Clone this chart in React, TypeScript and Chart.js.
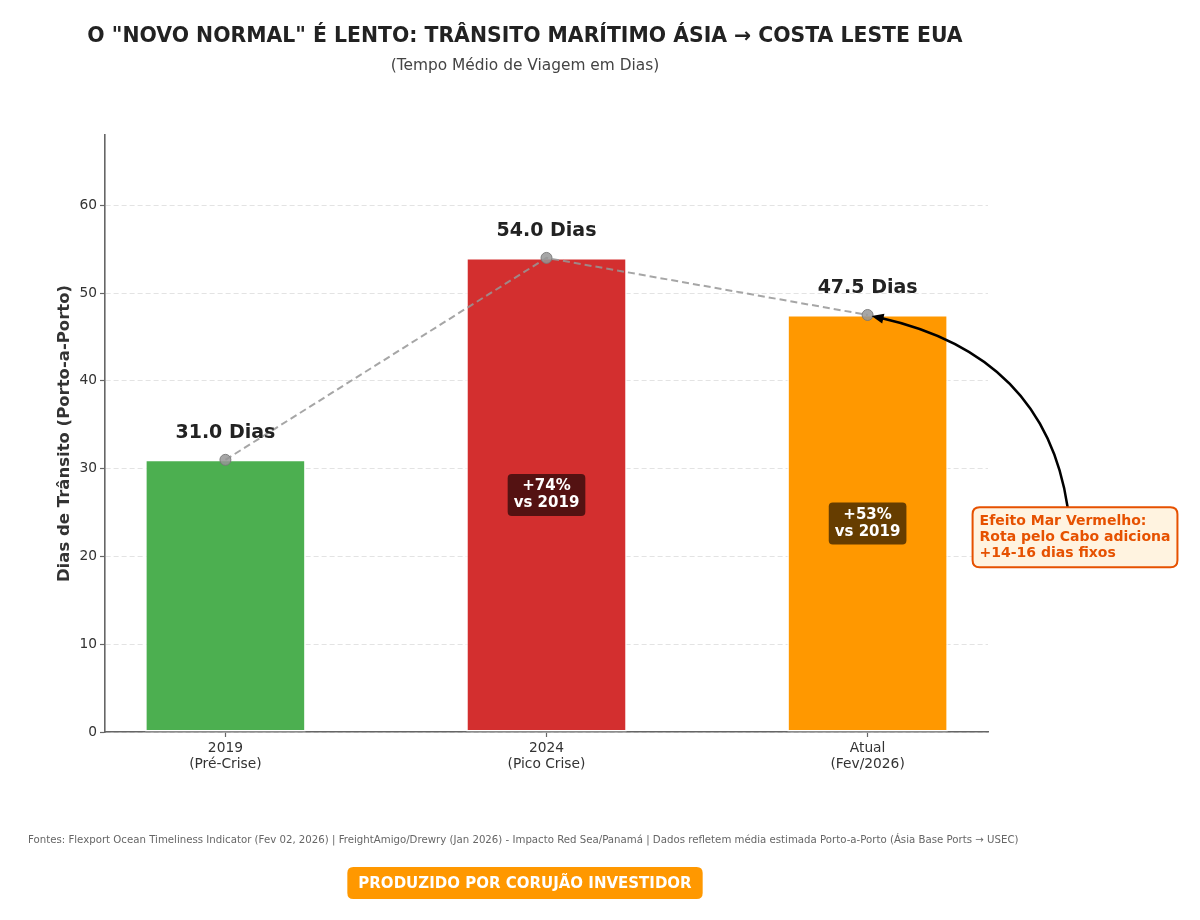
import React, { useEffect, useRef } from "react";
import { Chart, registerables } from "chart.js";

Chart.register(...registerables);

const categories: string[][] = [
  ["2019", "(Pré-Crise)"],
  ["2024", "(Pico Crise)"],
  ["Atual", "(Fev/2026)"],
];
const transitDays = [31.0, 54.0, 47.5];
const barColors = ["#4CAF50", "#D32F2F", "#FF9800"];
const valueLabels = ["31.0 Dias", "54.0 Dias", "47.5 Dias"];
const changeLabels: (string[] | null)[] = [null, ["+74%", "vs 2019"], ["+53%", "vs 2019"]];
const yTicks = [0, 10, 20, 30, 40, 50, 60];
const yMax = 68;

const titleText = 'O "NOVO NORMAL" É LENTO: TRÂNSITO MARÍTIMO ÁSIA → COSTA LESTE EUA';
const subtitleText = "(Tempo Médio de Viagem em Dias)";
const yAxisTitle = "Dias de Trânsito (Porto-a-Porto)";
const annotationLines = ["Efeito Mar Vermelho:", "Rota pelo Cabo adiciona", "+14-16 dias fixos"];
const footerText =
  "Fontes: Flexport Ocean Timeliness Indicator (Fev 02, 2026) | FreightAmigo/Drewry (Jan 2026) - Impacto Red Sea/Panamá | Dados refletem média estimada Porto-a-Porto (Ásia Base Ports → USEC)";
const badgeText = "PRODUZIDO POR CORUJÃO INVESTIDOR";

const FONT = "'DejaVu Sans', sans-serif";

function roundRect(ctx: CanvasRenderingContext2D, x: number, y: number, w: number, h: number, r: number) {
  ctx.beginPath();
  ctx.moveTo(x + r, y);
  ctx.lineTo(x + w - r, y);
  ctx.quadraticCurveTo(x + w, y, x + w, y + r);
  ctx.lineTo(x + w, y + h - r);
  ctx.quadraticCurveTo(x + w, y + h, x + w - r, y + h);
  ctx.lineTo(x + r, y + h);
  ctx.quadraticCurveTo(x, y + h, x, y + h - r);
  ctx.lineTo(x, y + r);
  ctx.quadraticCurveTo(x, y, x + r, y);
  ctx.closePath();
}

const decorPlugin = {
  id: "decor",
  afterDraw(chart: any) {
    const ctx: CanvasRenderingContext2D = chart.ctx;
    const xs = chart.scales.x;
    const ys = chart.scales.y;
    const area = chart.chartArea;
    ctx.save();

    // Title & subtitle
    ctx.textAlign = "center";
    ctx.textBaseline = "middle";
    ctx.fillStyle = "#222";
    ctx.font = `bold 20.4px ${FONT}`;
    ctx.fillText(titleText, 525, 37);
    ctx.fillStyle = "#444";
    ctx.font = `15.4px ${FONT}`;
    ctx.fillText(subtitleText, 525, 66);

    // Y axis title
    ctx.save();
    ctx.translate(65, (area.top + area.bottom) / 2);
    ctx.rotate(-Math.PI / 2);
    ctx.fillStyle = "#333";
    ctx.font = `bold 16.5px ${FONT}`;
    ctx.fillText(yAxisTitle, 0, 0);
    ctx.restore();

    // Value labels
    ctx.fillStyle = "#222";
    ctx.font = `bold 19px ${FONT}`;
    transitDays.forEach((v, i) => {
      const px = xs.getPixelForValue(i);
      const py = ys.getPixelForValue(v);
      ctx.fillText(valueLabels[i], px, py - 27);
    });

    // Change labels inside bars
    ctx.font = `bold 15px ${FONT}`;
    changeLabels.forEach((lines, i) => {
      if (!lines) return;
      const px = xs.getPixelForValue(i);
      const py = ys.getPixelForValue(transitDays[i] / 2);
      const w = Math.max(...lines.map((l) => ctx.measureText(l).width)) + 12;
      const lh = 17;
      const h = lh * lines.length + 8;
      ctx.fillStyle = "rgba(0,0,0,0.6)";
      roundRect(ctx, px - w / 2, py - h / 2, w, h, 4);
      ctx.fill();
      ctx.fillStyle = "#ffffff";
      lines.forEach((l, k) => {
        ctx.fillText(l, px, py - ((lines.length - 1) * lh) / 2 + k * lh);
      });
    });

    // Annotation arrow
    const tx = xs.getPixelForValue(2);
    const ty = ys.getPixelForValue(transitDays[2]);
    const sx = xs.getPixelForValue(2.623);
    const sy = ys.getPixelForValue(25.6);
    const cx = 1045;
    const cy = 355;
    const ex = tx + 4;
    const ey = ty + 1;
    ctx.strokeStyle = "#000";
    ctx.lineWidth = 2.5;
    const ang = Math.atan2(ey - cy, ex - cx);
    const headLen = 12;
    const bx = ex - headLen * Math.cos(ang) * 0.8;
    const by = ey - headLen * Math.sin(ang) * 0.8;
    ctx.beginPath();
    ctx.moveTo(sx, sy);
    ctx.quadraticCurveTo(cx, cy, bx, by);
    ctx.stroke();
    ctx.fillStyle = "#000";
    ctx.beginPath();
    ctx.moveTo(ex, ey);
    ctx.lineTo(ex - headLen * Math.cos(ang) + 5 * Math.sin(ang), ey - headLen * Math.sin(ang) - 5 * Math.cos(ang));
    ctx.lineTo(ex - headLen * Math.cos(ang) - 5 * Math.sin(ang), ey - headLen * Math.sin(ang) + 5 * Math.cos(ang));
    ctx.closePath();
    ctx.fill();

    // Annotation box
    const bxl = xs.getPixelForValue(2.327);
    const byt = ys.getPixelForValue(25.6);
    ctx.font = `bold 14px ${FONT}`;
    const bw = Math.max(...annotationLines.map((l) => ctx.measureText(l).width)) + 14;
    const bh = 60;
    ctx.fillStyle = "#FFF3E0";
    ctx.strokeStyle = "#E65100";
    ctx.lineWidth = 2;
    roundRect(ctx, bxl, byt, bw, bh, 7);
    ctx.fill();
    ctx.stroke();
    ctx.fillStyle = "#E65100";
    ctx.textAlign = "left";
    annotationLines.forEach((l, k) => {
      ctx.fillText(l, bxl + 7, byt + 14 + k * 16);
    });

    // Footer
    ctx.fillStyle = "#666";
    ctx.font = `10.2px ${FONT}`;
    ctx.textAlign = "left";
    ctx.fillText(footerText, 28, 840);

    // Badge
    ctx.font = `bold 15px ${FONT}`;
    ctx.textAlign = "center";
    const tw = ctx.measureText(badgeText).width + 22;
    ctx.fillStyle = "#FF9800";
    roundRect(ctx, 525 - tw / 2, 867, tw, 32, 6);
    ctx.fill();
    ctx.fillStyle = "#ffffff";
    ctx.fillText(badgeText, 525, 884);

    ctx.restore();
  },
};

export default function App() {
  const ref = useRef<HTMLCanvasElement | null>(null);
  useEffect(() => {
    if (!ref.current) return;
    const points = transitDays.map((v, i) => ({ x: i, y: v }));
    const chart = new Chart(ref.current, {
      type: "bar",
      data: {
        datasets: [
          {
            type: "line",
            data: points,
            borderColor: "rgba(150,150,150,0.85)",
            borderDash: [7, 4],
            borderWidth: 2,
            pointRadius: 5.5,
            pointBackgroundColor: "rgba(150,150,150,0.85)",
            pointBorderColor: "rgba(120,120,120,0.9)",
            pointBorderWidth: 1,
            order: 0,
          } as any,
          {
            type: "bar",
            data: points,
            backgroundColor: barColors,
            borderColor: "#ffffff",
            borderWidth: 1.5,
            borderSkipped: false,
            barPercentage: 0.5,
            categoryPercentage: 1,
            order: 1,
          } as any,
        ],
      },
      options: {
        responsive: false,
        animation: false,
        devicePixelRatio: 1,
        layout: { padding: { top: 135, right: 212, left: 0, bottom: 0 } },
        plugins: {
          legend: { display: false },
          tooltip: { enabled: false },
          title: { display: false },
        },
        scales: {
          x: {
            type: "linear",
            offset: false,
            min: -0.375,
            max: 2.375,
            afterBuildTicks: (scale: any) => {
              scale.ticks = categories.map((_, i) => ({ value: i }));
            },
            afterFit: (scale: any) => {
              scale.height = 188;
              scale.paddingLeft = 0;
              scale.paddingRight = 0;
            },
            ticks: {
              callback: (v: any) => categories[v as number],
              color: "#333",
              font: { family: FONT, size: 13.8 },
              padding: 3,
              maxRotation: 0,
              autoSkip: false,
            },
            grid: {
              offset: false,
              drawOnChartArea: false,
              drawTicks: true,
              tickLength: 5,
              tickColor: "#666",
              tickWidth: 1.2,
            },
            border: { display: true, color: "#666", width: 1.6 },
          },
          y: {
            type: "linear",
            min: 0,
            max: yMax,
            afterBuildTicks: (scale: any) => {
              scale.ticks = yTicks.map((v) => ({ value: v }));
            },
            afterFit: (scale: any) => {
              scale.width = 105;
            },
            ticks: {
              color: "#333",
              font: { family: FONT, size: 13.8 },
              padding: 3,
            },
            grid: {
              color: "#e3e3e3",
              lineWidth: 1,
              drawTicks: true,
              tickLength: 5,
              tickColor: "#666",
              tickWidth: 1.2,
            },
            border: { display: true, color: "#666", width: 1.6, dash: [5, 3] },
          },
        },
      } as any,
      plugins: [decorPlugin],
    });
    return () => chart.destroy();
  }, []);
  return (
    <div style={{ position: "absolute", left: 0, top: 0, width: 1200, height: 920, background: "#fff" }}>
      <canvas ref={ref} width={1200} height={920} style={{ display: "block", width: 1200, height: 920 }} />
    </div>
  );
}
